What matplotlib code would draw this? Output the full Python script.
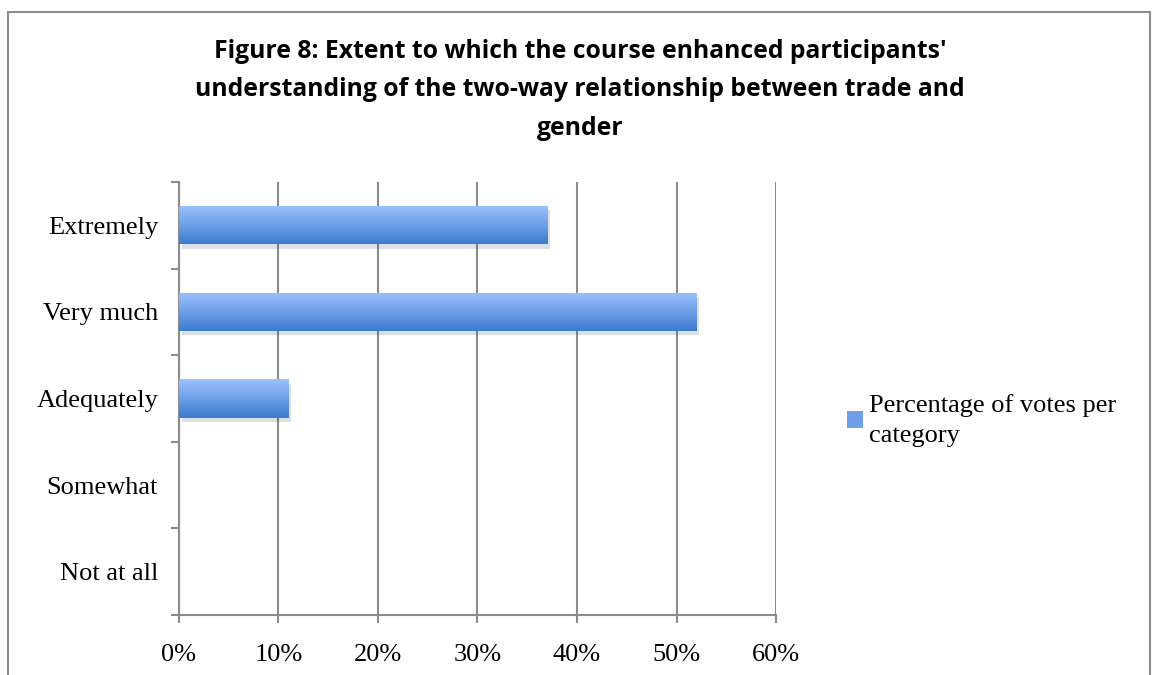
import numpy as np
import matplotlib
matplotlib.use("Agg")
import matplotlib.pyplot as plt
from matplotlib.patches import Rectangle, Patch
from matplotlib import patheffects
from matplotlib.colors import LinearSegmentedColormap

categories = ["Extremely", "Very much", "Adequately", "Somewhat", "Not at all"]
values = [37, 52, 11, 0, 0]
x_ticks = [0, 10, 20, 30, 40, 50, 60]
x_labels = ["0%", "10%", "20%", "30%", "40%", "50%", "60%"]
series_name = "Percentage of votes per\ncategory"
title = ("Figure 8: Extent to which the course enhanced participants'\n"
         "understanding of the two-way relationship between trade and\n"
         "gender")

serif = ["Liberation Serif", "DejaVu Serif"]
grey = "#8c8c8c"
grad = LinearSegmentedColormap.from_list("bar", ["#3b7bd0", "#6f9fe6", "#9cc2ff"])


def main():
    fig = plt.figure(figsize=(11.56, 6.75), dpi=100)
    ax = fig.add_axes([0.1548, 0.0889, 0.5165, 0.6415])

    # outer chart border
    fig.patches.append(Rectangle((8 / 1156, -0.01), 1142 / 1156, 1 - 12 / 675 + 0.01,
                                 transform=fig.transFigure, fill=False,
                                 edgecolor=grey, lw=1.5))

    y = np.arange(len(categories))[::-1]
    bars = ax.barh(y, values, height=0.44, color="#6f9fe6", zorder=3)
    ax.set_xlim(0, 60)
    ax.set_ylim(-0.5, len(categories) - 0.5)

    gradient = np.linspace(0, 1, 256).reshape(-1, 1)
    for bar in bars:
        if bar.get_width() <= 0:
            continue
        bar.set_path_effects([patheffects.SimplePatchShadow(offset=(2, -3), alpha=0.15),
                              patheffects.Normal()])
        x0, y0 = bar.get_x(), bar.get_y()
        im = ax.imshow(gradient, cmap=grad, aspect="auto", origin="lower",
                       extent=[x0, x0 + bar.get_width(), y0, y0 + bar.get_height()],
                       zorder=4)
        im.set_clip_path(bar)
    ax.set_xlim(0, 60)
    ax.set_ylim(-0.5, len(categories) - 0.5)

    ax.set_xticks(x_ticks)
    ax.set_xticklabels(x_labels, fontfamily=serif, fontsize=19)
    ax.set_yticks(y)
    ax.set_yticklabels(categories, fontfamily=serif, fontsize=19)
    ax.set_yticks(np.arange(-0.5, len(categories)), minor=True)
    ax.tick_params(axis="y", which="major", length=0, pad=15)
    ax.tick_params(axis="y", which="minor", length=6, color=grey, width=1.5)
    ax.tick_params(axis="x", length=6, color=grey, width=1.5, pad=15)

    ax.grid(axis="x", color=grey, lw=1.5, zorder=1)
    ax.set_axisbelow(True)
    for side in ["top", "right"]:
        ax.spines[side].set_visible(False)
    for side in ["left", "bottom"]:
        ax.spines[side].set_color(grey)
        ax.spines[side].set_linewidth(1.5)

    fig.text(0.502, 0.942, title, ha="center", va="top", fontsize=17.8,
             fontweight="bold", family=["Open Sans", "DejaVu Sans"], linespacing=1.7)

    handle = Patch(facecolor="#6f9fe6")
    leg = fig.legend([handle], [series_name], loc="upper left", bbox_to_anchor=(0.712, 0.452),
                     frameon=False, prop={"family": serif, "size": 19},
                     handlelength=0.6, handleheight=0.6, handletextpad=0.25)
    leg.get_texts()[0].set_linespacing(1.5)

    fig.savefig("out.png", dpi=100)


if __name__ == "__main__":
    main()
